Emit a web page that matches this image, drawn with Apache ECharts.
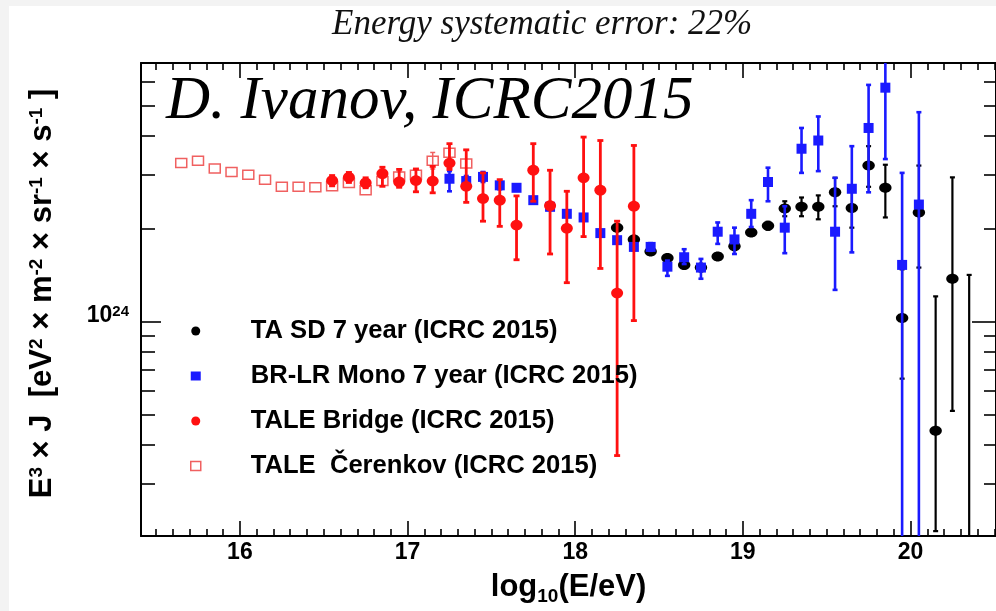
<!DOCTYPE html>
<html><head><meta charset="utf-8">
<script src="https://cdn.jsdelivr.net/npm/echarts@6/dist/echarts.min.js"></script>
<style>html,body{margin:0;padding:0;background:#fff}#c{width:996px;height:611px}</style>
</head><body><div id="c"></div>
<script>
// ---------- data (flux values in units of 1e24 eV^2 m^-2 sr^-1 s^-1) ----------
const UNIT = 1e24;
const xTickLabels = [16, 17, 18, 19, 20];
const yTickLabels = [1e24];

// TALE Cerenkov (open squares)
const cerX  = [15.65,15.75,15.85,15.95,16.05,16.15,16.25,16.35,16.45,16.55,16.65,16.75,16.85,16.95,17.05,17.15,17.25,17.35];
const cerY  = [3.27,3.33,3.14,3.06,3.00,2.89,2.74,2.74,2.73,2.75,2.82,2.67,2.86,2.96,3.00,3.33,3.53,3.26];
const cerLo = [3.27,3.33,3.14,3.06,3.00,2.89,2.74,2.74,2.73,2.75,2.82,2.67,2.76,2.85,2.89,3.13,3.30,2.94];
const cerHi = [3.27,3.33,3.14,3.06,3.00,2.89,2.74,2.74,2.73,2.75,2.82,2.67,2.97,3.07,3.11,3.54,3.77,3.61];

// TALE Bridge (red filled circles)
const brX  = [16.55,16.65,16.75,16.85,16.95,17.05,17.15,17.25,17.35,17.45,17.55,17.65,17.75,17.85,17.95,18.05,18.15,18.25,18.35];
const brY  = [2.87,2.94,2.82,3.02,2.84,2.87,2.86,3.27,2.75,2.51,2.48,2.06,3.10,2.38,2.01,2.93,2.67,1.24,2.37];
const brLo = [2.76,2.83,2.72,2.75,2.73,2.64,2.62,3.12,2.44,2.12,2.04,1.59,2.46,1.66,1.34,1.89,1.49,0.369,1.01];
const brHi = [2.98,3.05,2.93,3.17,3.12,3.13,3.19,3.78,3.61,3.04,2.89,2.56,3.78,3.10,2.65,3.97,3.87,2.12,3.73];

// BR-LR Mono 7 year (blue squares)
const mnX  = [17.25,17.35,17.45,17.55,17.65,17.75,17.85,17.95,18.05,18.15,18.25,18.35,18.45,18.55,18.65,18.75,18.85,18.95,19.05,19.15,19.25,19.35,19.45,19.55,19.65,19.75,19.85,19.95,20.05];
const mnY  = [2.91,2.86,2.95,2.77,2.72,2.48,2.36,2.24,2.18,1.94,1.84,1.75,1.75,1.51,1.62,1.50,1.96,1.85,2.24,2.84,2.02,3.64,3.87,1.96,2.70,4.25,5.74,1.53,2.40];
const mnLo = [2.65,2.76,2.84,2.69,2.66,2.43,2.31,2.19,2.13,1.90,1.80,1.71,1.70,1.41,1.54,1.38,1.79,1.66,2.03,2.46,1.67,3.04,3.08,1.27,1.68,2.63,3.37,0.10,0.10];
const mnHi = [3.08,2.97,3.06,2.85,2.78,2.53,2.41,2.29,2.23,1.98,1.88,1.79,1.80,1.58,1.72,1.60,2.10,2.02,2.48,3.16,2.37,4.25,4.63,2.93,3.71,5.86,8.00,3.04,4.78];

// TA SD 7 year (black circles)
const sdX  = [18.25,18.35,18.45,18.55,18.65,18.75,18.85,18.95,19.05,19.15,19.25,19.35,19.45,19.55,19.65,19.75,19.85,19.95,20.05,20.15,20.25,20.35];
const sdY  = [2.02,1.85,1.69,1.61,1.53,1.50,1.63,1.76,1.95,2.05,2.33,2.36,2.36,2.63,2.34,3.21,2.72,1.03,2.26,0.444,1.38,0.15];
const sdLo = [1.97,1.80,1.65,1.57,1.49,1.46,1.59,1.71,1.90,1.99,2.20,2.20,2.15,2.37,2.02,2.74,2.18,0.655,1.50,0.210,0.515,0.05];
const sdHi = [2.07,1.90,1.73,1.65,1.57,1.54,1.67,1.81,2.00,2.11,2.46,2.53,2.57,2.93,2.69,3.71,3.23,1.48,3.21,1.21,2.94,1.42];

const names = ['TA SD 7 year (ICRC 2015)','BR-LR Mono 7 year (ICRC 2015)','TALE Bridge (ICRC 2015)','TALE  \u010Cerenkov (ICRC 2015)'];

// ---------- build ----------
const X_MIN = 15.41, X_MAX = 20.51, Y_MIN = 2.025e23, Y_MAX = 6.9e24;
const SANS = "'Liberation Sans', Arial, Helvetica, sans-serif";
const SERIF = "'Liberation Serif', 'Times New Roman', serif";

function rows(xs, ys, lo, hi) {
  return xs.map((x, i) => [x, ys[i] * UNIT, lo[i] * UNIT, hi[i] * UNIT]);
}
const xMinor = [];
for (let i = 155; i <= 205; i++) if (i % 10) xMinor.push(i / 10);
const yMinor = [3,4,5,6,7,8,9].map(k => k * 1e23).concat([2,3,4,5,6].map(k => k * 1e24));

const STY = {
  sd:  {color:'#000000', lw:2.2, cap:5, marker:'ellipse', rx:6.2, ry:5},
  mn:  {color:'#1a1aff', lw:2.6, cap:5, marker:'rect', w:10, h:10},
  br:  {color:'#ff1010', lw:2.8, cap:6, marker:'ellipse', rx:6, ry:5.4},
  cer: {color:'#f06060', lw:1.5, cap:5, marker:'open', w:11, h:9}
};

function makeRender(key) {
  const s = STY[key];
  return function (params, api) {
    const x = api.value(0), y = api.value(1), lo = api.value(2), hi = api.value(3);
    const p = api.coord([x, y]);
    const ch = [];
    if (hi > lo) {
      const a = api.coord([x, hi]), b = api.coord([x, lo]);
      ch.push({type:'line', shape:{x1:p[0], y1:a[1], x2:p[0], y2:b[1]}, style:{stroke:s.color, lineWidth:s.lw}});
      ch.push({type:'line', shape:{x1:p[0]-s.cap/2, y1:a[1], x2:p[0]+s.cap/2, y2:a[1]}, style:{stroke:s.color, lineWidth:s.lw}});
      ch.push({type:'line', shape:{x1:p[0]-s.cap/2, y1:b[1], x2:p[0]+s.cap/2, y2:b[1]}, style:{stroke:s.color, lineWidth:s.lw}});
    }
    if (s.marker === 'ellipse') {
      ch.push({type:'ellipse', shape:{cx:p[0], cy:p[1], rx:s.rx, ry:s.ry}, style:{fill:s.color}});
    } else if (s.marker === 'rect') {
      ch.push({type:'rect', shape:{x:p[0]-s.w/2, y:p[1]-s.h/2, width:s.w, height:s.h}, style:{fill:s.color}});
    } else {
      ch.push({type:'rect', shape:{x:p[0]-s.w/2, y:p[1]-s.h/2, width:s.w, height:s.h}, style:{fill:'rgba(255,255,255,0)', stroke:s.color, lineWidth:1.5}});
    }
    return {type:'group', children:ch};
  };
}

const axLine = {show:true, onZero:false, lineStyle:{color:'#000', width:2}};
const tickStyle = {color:'#000', width:1.6};
const xBase = {type:'value', min:X_MIN, max:X_MAX, splitLine:{show:false}, minorTick:{show:false}};
const yBase = {type:'log', logBase:10, min:Y_MIN, max:Y_MAX, splitLine:{show:false}, minorTick:{show:false}};

const option = {
  animation: false,
  backgroundColor: '#ffffff',
  graphic: [
    {type:'rect', left:0, top:0, shape:{width:9, height:611}, style:{fill:'#f3f3f3'}, silent:true},
    {type:'rect', left:0, top:0, shape:{width:996, height:6}, style:{fill:'#f3f3f3'}, silent:true}
  ],
  title: [
    {text:'Energy systematic error: 22%', left:332, top:7, padding:0,
     textStyle:{fontFamily:SERIF, fontStyle:'italic', fontWeight:'normal', fontSize:35, color:'#111'}},
    {text:'D. Ivanov, ICRC2015', left:166, top:71, padding:0,
     textStyle:{fontFamily:SERIF, fontStyle:'italic', fontWeight:'normal', fontSize:61, color:'#000'}}
  ],
  grid: {left:141, right:-2, top:63, bottom:73, containLabel:false},
  legend: {
    orient:'vertical', left:190, top:318, itemWidth:10, itemHeight:9, itemGap:19, padding:0,
    selectedMode:false,
    textStyle:{fontFamily:SANS, fontWeight:'bold', fontSize:25.6, color:'#000', padding:[0,0,0,45]},
    data:[
      {name:names[0], icon:'circle'},
      {name:names[1], icon:'rect'},
      {name:names[2], icon:'circle'},
      {name:names[3], icon:'rect', itemStyle:{color:'#ffffff', borderColor:'#f06060', borderWidth:1.5}}
    ]
  },
  xAxis: [
    Object.assign({}, xBase, {position:'bottom', axisLine:axLine,
      axisTick:{show:true, inside:true, length:15, customValues:xTickLabels, lineStyle:tickStyle},
      axisLabel:{show:true, customValues:xTickLabels, margin:5, fontFamily:SANS, fontWeight:'bold', fontSize:23, color:'#000'},
      name:'{a|log}{s|10}{a|(E/eV)}', nameLocation:'middle', nameGap:36,
      nameTextStyle:{rich:{
        a:{fontFamily:SANS, fontWeight:'bold', fontSize:31, color:'#000', lineHeight:34, verticalAlign:'top'},
        s:{fontFamily:SANS, fontWeight:'bold', fontSize:19, color:'#000', lineHeight:19, verticalAlign:'bottom'}
      }, lineHeight:44}}),
    Object.assign({}, xBase, {position:'bottom', axisLine:{show:false},
      axisTick:{show:true, inside:true, length:7, customValues:xMinor, lineStyle:tickStyle}, axisLabel:{show:false}}),
    Object.assign({}, xBase, {position:'top', axisLine:axLine,
      axisTick:{show:true, inside:true, length:15, customValues:xTickLabels, lineStyle:tickStyle}, axisLabel:{show:false}}),
    Object.assign({}, xBase, {position:'top', axisLine:{show:false},
      axisTick:{show:true, inside:true, length:7, customValues:xMinor, lineStyle:tickStyle}, axisLabel:{show:false}})
  ],
  yAxis: [
    Object.assign({}, yBase, {position:'left', axisLine:axLine,
      axisTick:{show:true, inside:true, length:20, customValues:yTickLabels, lineStyle:tickStyle},
      axisLabel:{show:true, customValues:yTickLabels, margin:12, padding:[0,0,12,0],
        formatter: v => '{a|10}{s|' + Math.round(Math.log10(v)) + '}',
        rich:{
          a:{fontFamily:SANS, fontWeight:'bold', fontSize:23, color:'#000', lineHeight:23, verticalAlign:'bottom'},
          s:{fontFamily:SANS, fontWeight:'bold', fontSize:15, color:'#000', lineHeight:15, verticalAlign:'top'}
        }},
      name:'{a|E}{s|3}{a| \u00D7 J  [eV}{s|2}{a| \u00D7 m}{s|-2}{a| \u00D7 sr}{s|-1}{a| \u00D7 s}{s|-1}{a| ]}',
      nameLocation:'middle', nameRotate:90, nameGap:83,
      nameTextStyle:{padding:[0,0,0,12], rich:{
        a:{fontFamily:SANS, fontWeight:'bold', fontSize:31, color:'#000', lineHeight:31, verticalAlign:'bottom'},
        s:{fontFamily:SANS, fontWeight:'bold', fontSize:19, color:'#000', lineHeight:19, verticalAlign:'top'}
      }}}),
    Object.assign({}, yBase, {position:'left', axisLine:{show:false},
      axisTick:{show:true, inside:true, length:14, customValues:yMinor, lineStyle:tickStyle}, axisLabel:{show:false}}),
    Object.assign({}, yBase, {position:'right', axisLine:axLine,
      axisTick:{show:true, inside:true, length:24, customValues:yTickLabels, lineStyle:tickStyle}, axisLabel:{show:false}}),
    Object.assign({}, yBase, {position:'right', axisLine:{show:false},
      axisTick:{show:true, inside:true, length:12, customValues:yMinor, lineStyle:tickStyle}, axisLabel:{show:false}})
  ],
  series: [
    {name:names[3], type:'custom', clip:true, itemStyle:{color:STY.cer.color}, renderItem:makeRender('cer'), data:rows(cerX, cerY, cerLo, cerHi)},
    {name:names[0], type:'custom', clip:true, itemStyle:{color:STY.sd.color}, renderItem:makeRender('sd'), data:rows(sdX, sdY, sdLo, sdHi)},
    {name:names[1], type:'custom', clip:true, itemStyle:{color:STY.mn.color}, renderItem:makeRender('mn'), data:rows(mnX, mnY, mnLo, mnHi)},
    {name:names[2], type:'custom', clip:true, itemStyle:{color:STY.br.color}, renderItem:makeRender('br'), data:rows(brX, brY, brLo, brHi)}
  ]
};
const chart = echarts.init(document.getElementById('c'));
chart.setOption(option);
</script>
</body></html>
